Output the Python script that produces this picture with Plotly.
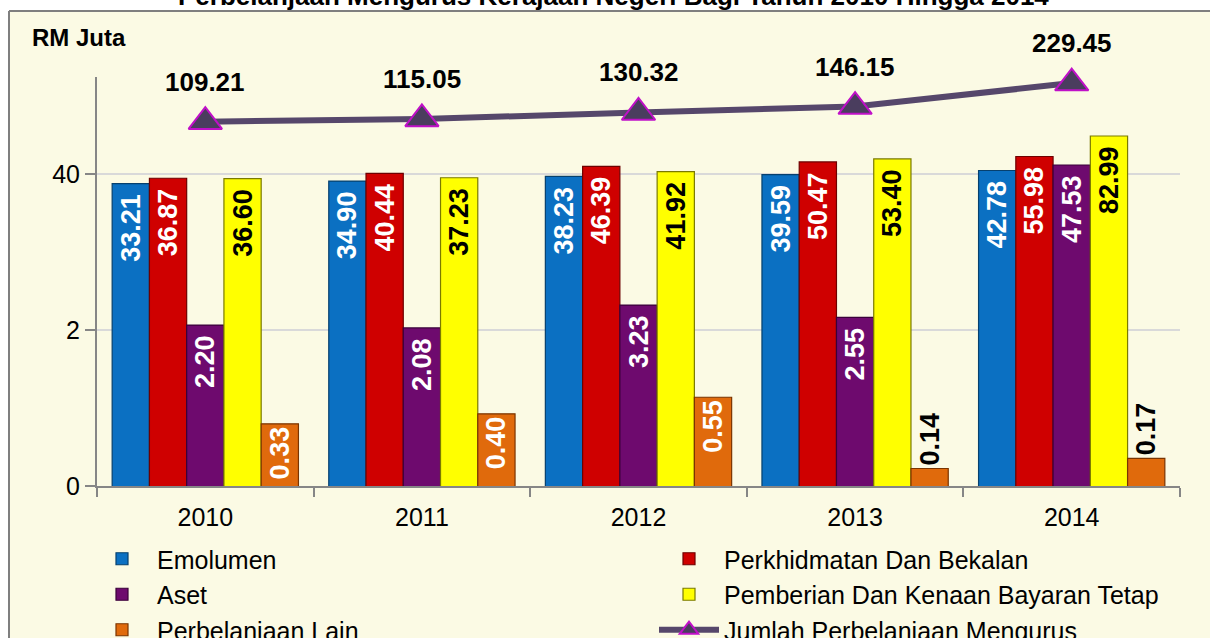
import math
import plotly.graph_objects as go

years = ["2010", "2011", "2012", "2013", "2014"]
emolumen = [33.21, 34.90, 38.23, 39.59, 42.78]
perkhidmatan = [36.87, 40.44, 46.39, 50.47, 55.98]
aset = [2.20, 2.08, 3.23, 2.55, 47.53]
pemberian = [36.60, 37.23, 41.92, 53.40, 82.99]
lain = [0.33, 0.40, 0.55, 0.14, 0.17]
jumlah = [109.21, 115.05, 130.32, 146.15, 229.45]

y_tickvals = [0.1, 2, 40]
y_ticktext = ["0", "2", "40"]

W, H = 1210, 638
L, R, T, B = 97, 30, 77, 152
PH = H - T - B
PW = W - L - R

def py(p):
    return (H - B - p) / PH

def px(p):
    return (p - L) / PW

FONT = "Liberation Sans, Arial, sans-serif"
NB = "\u00a0"

series = [
    ("Emolumen", emolumen, "#0b70c2", "#06406e", "white", ["inside"] * 5, NB),
    ("Perkhidmatan Dan Bekalan", perkhidmatan, "#cf0000", "#6e0000", "white", ["inside"] * 5, NB),
    ("Aset", aset, "#6e0a6e", "#3a003a", "white", ["inside"] * 5, NB),
    ("Pemberian Dan Kenaan Bayaran Tetap", pemberian, "#ffff00", "#7a7a00", "black", ["inside"] * 5, NB),
    ("Perbelanjaan Lain", lain, "#e06a0c", "#7a3400", "white",
     ["inside", "inside", "inside", "outside", "outside"], ""),
]

fig = go.Figure()
for name, vals, col, edge, tcol, tpos, pad in series:
    fig.add_trace(go.Bar(
        x=years, y=vals, name=name,
        marker=dict(color=col, line=dict(color=edge, width=1.2)),
        text=[f"<b>{v:.2f}{pad if p == 'inside' else ''}</b>" for v, p in zip(vals, tpos)],
        textposition=tpos,
        textangle=-90,
        insidetextanchor="end",
        constraintext="none",
        insidetextfont=dict(family=FONT, size=27, color=tcol),
        outsidetextfont=dict(family=FONT, size=27, color="black"),
        cliponaxis=False,
    ))

fig.add_trace(go.Scatter(
    x=years, y=jumlah, name="Jumlah Perbelanjaan Mengurus",
    mode="lines+markers",
    line=dict(color="#56476b", width=6),
    marker=dict(symbol="triangle-up", size=29, color="#4a3d5e",
                line=dict(color="#c010c8", width=2)),
    cliponaxis=False,
))

annotations = []
for i, v in enumerate(jumlah):
    annotations.append(dict(
        x=i, y=math.log10(v), xref="x", yref="y",
        text=f"<b>{v:.2f}</b>", showarrow=False, yshift=40,
        font=dict(family=FONT, size=26, color="black"),
    ))

annotations.append(dict(
    x=px(30), y=py(37), xref="paper", yref="paper", xanchor="left", yanchor="middle",
    text="<b>RM Juta</b>", showarrow=False,
    font=dict(family=FONT, size=24, color="black"),
))
annotations.append(dict(
    x=px(613), y=py(-4), xref="paper", yref="paper", xanchor="center", yanchor="middle",
    text="<b>Perbelanjaan Mengurus Kerajaan Negeri Bagi Tahun 2010 Hingga 2014</b>",
    showarrow=False,
    font=dict(family=FONT, size=26, color="black"),
))

shapes = [
    dict(type="rect", xref="paper", yref="paper", x0=px(-20), x1=px(1240), y0=py(11), y1=py(-40),
         fillcolor="white", line=dict(width=0), layer="above"),
    dict(type="rect", xref="paper", yref="paper", x0=px(-20), x1=px(9), y0=py(680), y1=py(-40),
         fillcolor="white", line=dict(width=0), layer="above"),
    dict(type="line", xref="paper", yref="paper", x0=px(9), x1=px(1240), y0=py(11), y1=py(11),
         line=dict(color="#7f7f7f", width=2), layer="above"),
    dict(type="line", xref="paper", yref="paper", x0=px(9), x1=px(9), y0=py(11), y1=py(680),
         line=dict(color="#7f7f7f", width=2), layer="above"),
]

fig.update_layout(
    width=W, height=H,
    margin=dict(l=L, r=R, t=T, b=B, pad=0, autoexpand=False),
    paper_bgcolor="#fbfae4",
    plot_bgcolor="#fbfae4",
    barmode="group", bargap=0.14, bargroupgap=0,
    font=dict(family=FONT, size=23, color="black"),
    showlegend=True,
    legend=dict(
        orientation="h", x=px(87), y=py(536), xanchor="left", yanchor="top",
        entrywidth=492, entrywidthmode="pixels", itemwidth=60,
        traceorder="normal",
        font=dict(family=FONT, size=25, color="black"),
        bgcolor="rgba(0,0,0,0)",
    ),
    annotations=annotations,
    shapes=shapes,
)

fig.update_xaxes(
    type="category", range=[-0.5, len(years) - 0.5], autorange=False,
    showline=True, linecolor="#868686", linewidth=2,
    ticks="outside", tickson="boundaries", ticklen=9, tickcolor="#868686", tickwidth=2,
    ticklabelstandoff=8,
    showgrid=False, tickfont=dict(family=FONT, size=25, color="black"),
)
fig.update_yaxes(
    type="log", range=[-1, math.log10(2) + (330 - 77) / (156 / math.log10(20))],
    tickvals=y_tickvals, ticktext=y_ticktext,
    showline=True, linecolor="#868686", linewidth=2,
    ticks="outside", ticklen=10, tickcolor="#868686", tickwidth=2,
    ticklabelstandoff=0,
    showgrid=True, gridcolor="#d9d9d9", gridwidth=2, zeroline=False,
    tickfont=dict(family=FONT, size=25, color="black"),
)

fig.write_html(
    "out.html",
    config=dict(displayModeBar=False),
    post_script=(
        "document.documentElement.style.overflow='hidden';"
        "document.body.style.margin='0';document.body.style.overflow='hidden';"
    ),
)
